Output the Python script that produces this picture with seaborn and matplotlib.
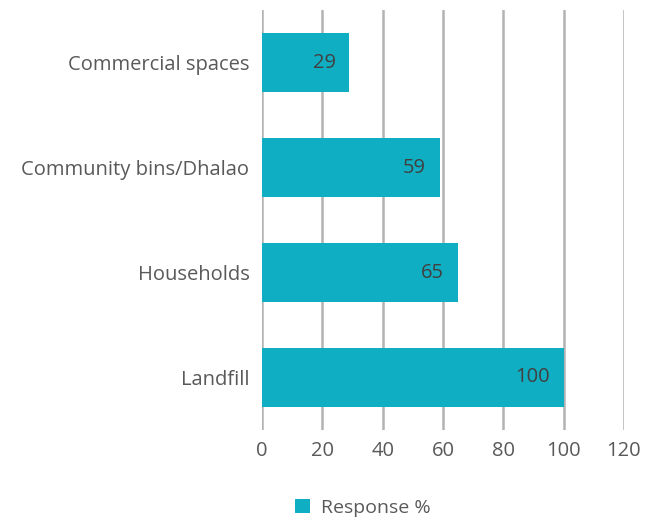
import matplotlib
matplotlib.use("Agg")
import matplotlib.pyplot as plt
import seaborn as sns
import pandas as pd
from matplotlib.patches import Patch

categories = ["Commercial spaces", "Community bins/Dhalao", "Households", "Landfill"]
values = [29, 59, 65, 100]
series_name = "Response %"
xticks = [0, 20, 40, 60, 80, 100, 120]

BAR = "#10AEC3"
TEXT = "#595959"
GRID = "#B3B3B3"

sns.set_theme(style="white")
plt.rcParams["font.family"] = ["Open Sans", "DejaVu Sans"]

df = pd.DataFrame({"category": categories, "value": values})

fig = plt.figure(figsize=(6.54, 5.21), dpi=100)
ax = fig.add_axes([0.4006, 0.1747, 0.5535, 0.806])

sns.barplot(data=df, y="category", x="value", orient="h", color=BAR,
            saturation=1, width=0.57, linewidth=0, ax=ax, zorder=3)

ax.set_xlim(0, 120)
ax.set_ylim(3.5, -0.5)
ax.set_xticks(xticks)
ax.set_xticklabels([str(t) for t in xticks], fontsize=14.5, color=TEXT)
ax.tick_params(axis="y", labelsize=14.5, labelcolor=TEXT, length=0, pad=9)
ax.tick_params(axis="x", length=0, pad=8)
ax.set_xlabel("")
ax.set_ylabel("")
for s in ax.spines.values():
    s.set_visible(False)
ax.grid(axis="x", color=GRID, linewidth=1.8, zorder=0)
ax.grid(axis="y", visible=False)

# value labels sit just inside the end of each bar
for i, v in enumerate(values):
    ax.annotate(str(v), xy=(v, i), xytext=(-10, 0), textcoords="offset points",
                ha="right", va="center", fontsize=14.5, color="#404040", zorder=4)

handles = [Patch(facecolor=BAR, edgecolor="none", label=series_name)]
fig.legend(handles=handles, loc="center", bbox_to_anchor=(0.555, 0.025),
           frameon=False, fontsize=14, handlelength=0.75, handleheight=0.75,
           handletextpad=0.6, labelcolor=TEXT)

fig.savefig("out.png", dpi=100)
